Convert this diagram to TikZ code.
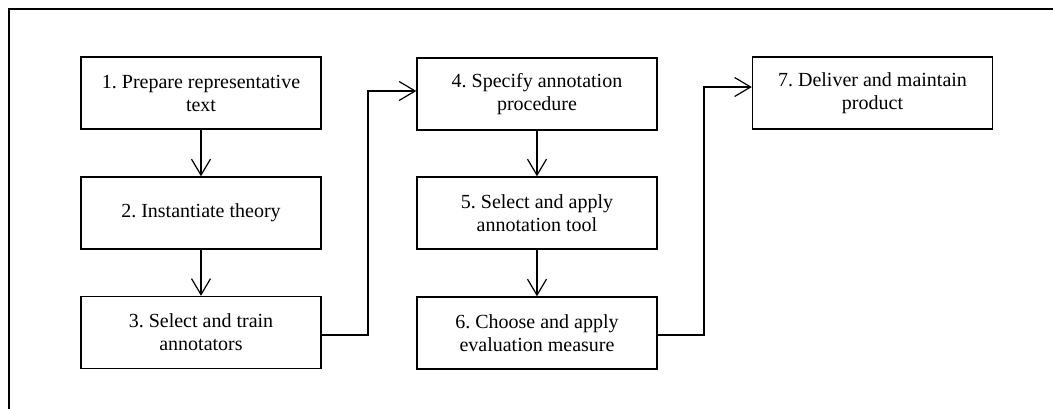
\documentclass[tikz,border=0pt]{standalone}
\usepackage{fontspec}
\setmainfont{Liberation Serif}
\frenchspacing
\usetikzlibrary{arrows.meta}
\begin{document}
\begin{tikzpicture}[x=1pt,y=-1pt,
  stepbox/.style={draw, line width=1.4pt, minimum width=240pt, minimum height=72pt,
    align=center, inner sep=0pt, font=\fontsize{20}{23}\selectfont},
  arr/.style={line width=1.2pt, -{Straight Barb[length=16pt,width=19pt,line width=1.2pt]}},
  frame/.style={line width=2pt}]
\useasboundingbox (0,0) rectangle (1053,409);
\draw[frame] (9,409) -- (9,9) -- (1053,9);
\node[stepbox] (b1) at (201,93) {1. Prepare representative\\text};
\node[stepbox] (b2) at (201,213) {2. Instantiate theory};
\node[stepbox] (b3) at (201,332.5) {3. Select and train\\annotators};
\node[stepbox] (b4) at (537,94) {4. Specify annotation\\procedure};
\node[stepbox] (b5) at (537,213) {5. Select and apply\\annotation tool};
\node[stepbox] (b6) at (537,333) {6. Choose and apply\\evaluation measure};
\node[stepbox] (b7) at (872.5,93) {7. Deliver and maintain\\product};
\coordinate (c1) at (368,335);
\coordinate (c2) at (704,335);
\draw[arr] (b1) -- (b2);
\draw[arr] (b2) -- (b3);
\draw[arr] (b4) -- (b5);
\draw[arr] (b5) -- (b6);
\draw[arr] (b3.east |- c1) -- (c1) |- ([yshift=3pt]b4.west);
\draw[arr] (b6.east |- c2) -- (c2) |- ([yshift=6pt]b7.west);
\end{tikzpicture}
\end{document}
